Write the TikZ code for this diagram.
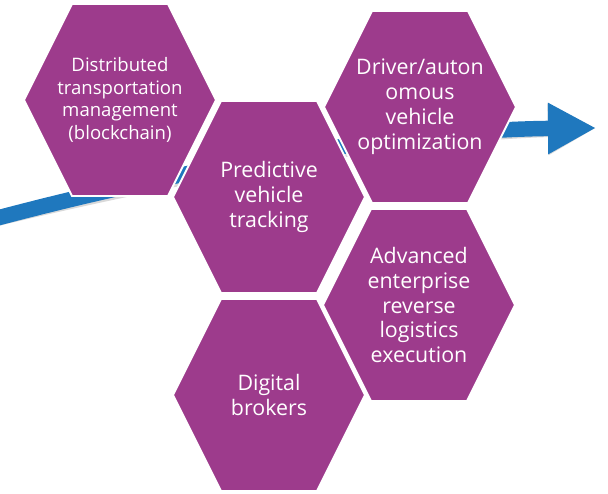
\documentclass[tikz,border=0pt]{standalone}
\usepackage{fontspec}
\setmainfont{Open Sans}
\usepackage{tikz}
\usetikzlibrary{arrows.meta}

\definecolor{hexpurple}{RGB}{157,59,140}
\definecolor{arrowblue}{RGB}{31,120,190}

\begin{document}
\begin{tikzpicture}[x=0.025cm,y=-0.025cm,
    hexcell/.style={fill=hexpurple, draw=white, line width=1.4pt, line join=miter},
    hexlabel/.style={text=white, align=center, inner sep=0pt, font=\fontsize{15.2}{17.7}\selectfont},
    smalllabel/.style={hexlabel, font=\fontsize{13.2}{16}\selectfont},
    flow/.style={line width=11pt, -{Triangle[length=1.2cm, width=1.2cm]}}]
    \useasboundingbox (0,0) rectangle (608,494);

    \coordinate (H1) at (120,100);
    \coordinate (H2) at (269,197);
    \coordinate (H3) at (420,107);
    \coordinate (H4) at (419,305);
    \coordinate (H5) at (269,395);
    \coordinate (A0) at (-10,220);
    \coordinate (A1) at (596,128);

%arrow
    \draw[flow, black, opacity=0.15, shift={(2,4)}]
        (A0) .. controls (150,177) and (380,130) .. (A1);
    \draw[flow, arrowblue]
        (A0) .. controls (150,177) and (380,130) .. (A1);

%cells
    \foreach \c in {H1,H2,H3,H4,H5}
        \draw[hexcell, shift={(\c)}] (-96,0) -- (-48,-96) -- (48,-96)
            -- (96,0) -- (48,96) -- (-48,96) -- cycle;

%labels
    \node[smalllabel] (dtm) at (H1) {Distributed\\transportation\\management\\(blockchain)};
    \node[hexlabel] (pvt) at (H2) {Predictive\\vehicle\\tracking};
    \node[hexlabel] (avo) at (H3) {Driver/auton\\omous\\vehicle\\optimization};
    \node[hexlabel] (erl) at (H4) {Advanced\\enterprise\\reverse\\logistics\\execution};
    \node[hexlabel] (dbk) at (H5) {Digital\\brokers};

\end{tikzpicture}
\end{document}
